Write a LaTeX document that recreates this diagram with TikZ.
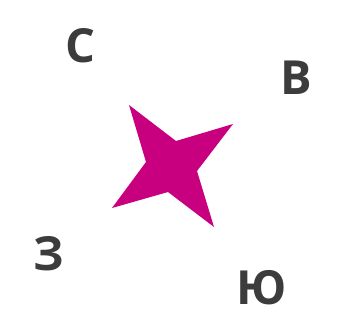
\documentclass[tikz,border=0pt]{standalone}
\usepackage{fontspec}
\setmainfont{Open Sans}
\usepackage{tikz}
\definecolor{starpink}{HTML}{C8007F}
\definecolor{lettergray}{HTML}{3C3C3C}
\tikzset{dirlabel/.style={text=lettergray,inner sep=0pt,font=\fontsize{47}{47}\selectfont\bfseries}}

\begin{document}
\begin{tikzpicture}[x=1pt,y=-1pt]
\useasboundingbox (0,0) rectangle (359,332);

% Star
\fill[starpink] (129,105) -- (176,141) -- (233,124) -- (197,171)
  -- (214,227) -- (168,192) -- (112,208) -- (146,162) -- cycle;

% Directions
\node[dirlabel] (north) at (80,46){С};
\node[dirlabel] (east) at (296,78){В};
\node[dirlabel] (west) at (49,254){З};
\node[dirlabel] (south) at (262,288){Ю};

\end{tikzpicture}
\end{document}
